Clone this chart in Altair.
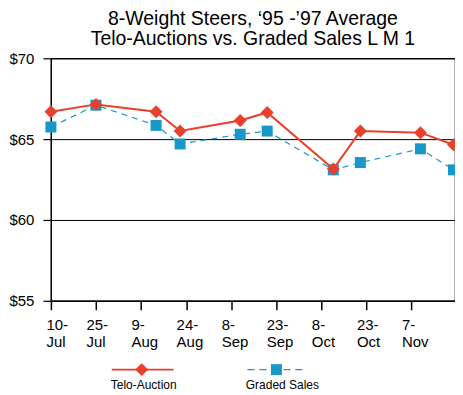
import altair as alt
import pandas as pd

# ---- data ----
dates = ["1997-07-10", "1997-07-25", "1997-08-14", "1997-08-22", "1997-09-11",
         "1997-09-20", "1997-10-12", "1997-10-21", "1997-11-10", "1997-11-21"]
telo_auction = [66.70, 67.15, 66.70, 65.50, 66.15, 66.65, 63.15, 65.50, 65.40, 64.65]
graded_sales = [65.75, 67.10, 65.85, 64.70, 65.30, 65.50, 63.10, 63.55, 64.40, 63.10]
series_names = ["Telo-Auction", "Graded Sales"]
x_tick_dates = ["1997-07-10", "1997-07-25", "1997-08-09", "1997-08-24", "1997-09-08",
                "1997-09-23", "1997-10-08", "1997-10-23", "1997-11-07"]
y_ticks = [55, 60, 65, 70]
title_lines = ["8-Weight Steers, \u201895 -\u201997 Average",
               "Telo-Auctions vs. Graded Sales L M 1"]

RED = "#e8402c"
BLUE = "#1897c9"
FONT = "Liberation Sans"


def dt(s, hours=0):
    y, m, d = (int(p) for p in s.split("-"))
    return alt.DateTime(year=y, month=m, date=d, hours=hours, utc=True)


df = pd.DataFrame({
    "date": dates * 2,
    "price": telo_auction + graded_sales,
    "series": [series_names[0]] * len(dates) + [series_names[1]] * len(dates),
})

x_enc = alt.X(
    "date:T",
    scale=alt.Scale(type="utc", domain=[dt("1997-07-10"), dt("1997-11-21", 12)]),
    axis=alt.Axis(
        values=[dt(s) for s in x_tick_dates],
        labelExpr="[utcdate(datum.value) + '-', utcFormat(datum.value, '%b')]",
        labelAlign="left", labelBaseline="top",
        labelOffset={"condition": {"test": "datum.index == 0", "value": -5}, "value": -10},
        labelFlush=False,
        labelPadding=8, labelLineHeight=16.5, labelFontSize=15, labelFont=FONT,
        labelColor="black", tickSize=9, tickColor="black", tickWidth=1.5,
        domainColor="black", domainWidth=1.2, grid=False, title=None,
        labelOverlap=False,
    ),
)
y_enc = alt.Y(
    "price:Q",
    scale=alt.Scale(domain=[55, 70], nice=False, zero=False),
    axis=alt.Axis(
        values=y_ticks, labelExpr="'$' + datum.value", labelFontSize=15,
        labelFont=FONT, labelColor="black", labelPadding=9, tickSize=8,
        tickColor="black", tickWidth=1.2, domainColor="black", domainWidth=1.2,
        grid=True, gridColor="black", gridOpacity=1, gridWidth=1, title=None,
    ),
)

base = alt.Chart(df).encode(x=x_enc, y=y_enc)

graded_line = base.transform_filter(alt.datum.series == series_names[1]).mark_line(
    color=BLUE, strokeWidth=1.2, strokeDash=[6, 5])
graded_pts = base.transform_filter(alt.datum.series == series_names[1]).mark_point(
    shape="square", filled=True, size=121, color=BLUE, opacity=1)
telo_line = base.transform_filter(alt.datum.series == series_names[0]).mark_line(
    color=RED, strokeWidth=2)
telo_pts = base.transform_filter(alt.datum.series == series_names[0]).mark_point(
    shape="diamond", filled=True, size=169, color=RED, opacity=1)

# ---- legend drawn below the plot ----
leg1 = alt.Data(values=[{"label": series_names[0]}])
leg2 = alt.Data(values=[{"label": series_names[1]}])
lg_red_line = alt.Chart(leg1).mark_rule(color=RED, strokeWidth=2).encode(
    x=alt.value(61), x2=alt.value(123), y=alt.value(312))
lg_red_pt = alt.Chart(leg1).mark_point(shape="diamond", filled=True, size=169,
                                       color=RED, opacity=1).encode(
    x=alt.value(91), y=alt.value(312))
lg_red_txt = alt.Chart(leg1).mark_text(fontSize=12, font=FONT, align="center",
                                       baseline="alphabetic", color="black").encode(
    x=alt.value(93), y=alt.value(331), text="label:N")
lg_blue_line = alt.Chart(leg2).mark_rule(color=BLUE, strokeWidth=1.2,
                                         strokeDash=[7, 5]).encode(
    x=alt.value(197), x2=alt.value(254), y=alt.value(312))
lg_blue_pt = alt.Chart(leg2).mark_point(shape="square", filled=True, size=121,
                                        color=BLUE, opacity=1).encode(
    x=alt.value(226), y=alt.value(312))
lg_blue_txt = alt.Chart(leg2).mark_text(fontSize=12, font=FONT, align="center",
                                        baseline="alphabetic", color="black").encode(
    x=alt.value(232), y=alt.value(331), text="label:N")

chart = alt.layer(
    graded_line, graded_pts, telo_line, telo_pts,
    lg_red_line, lg_red_pt, lg_red_txt, lg_blue_line, lg_blue_pt, lg_blue_txt,
).properties(
    width=405, height=243,
    title=alt.Title(title_lines, fontSize=19.5, font=FONT, fontWeight="normal",
                    color="black", anchor="middle", frame="group", lineHeight=20,
                    offset=2),
    autosize=alt.AutoSizeParams(type="none"),
    padding={"left": 43, "top": 50, "right": 0, "bottom": 94},
).configure_view(stroke="black", strokeWidth=1.2)

chart.save("out.html", embed_options={"renderer": "svg", "actions": False})
